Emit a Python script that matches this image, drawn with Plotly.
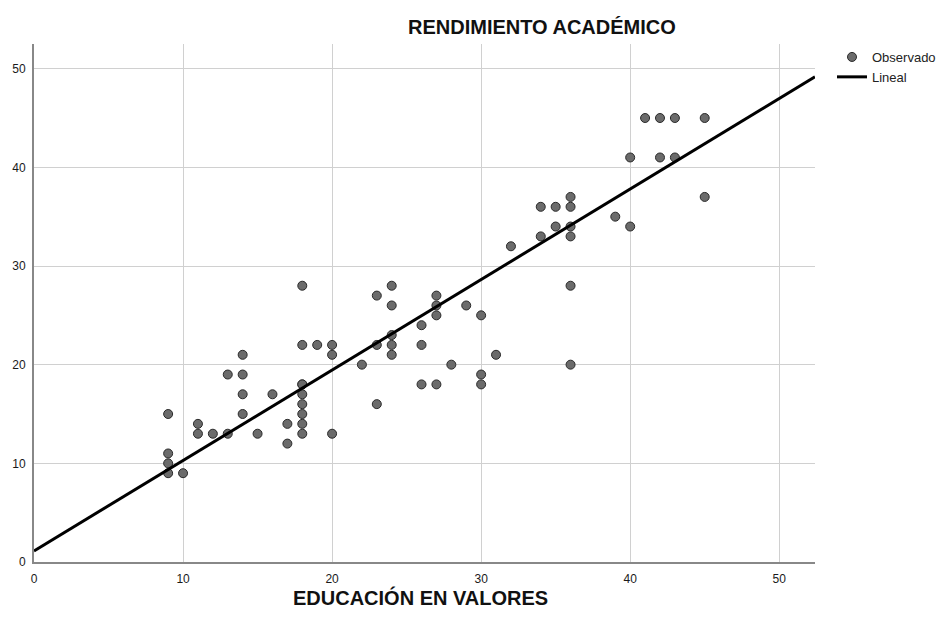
import plotly.graph_objects as go

# Observed points: EDUCACIÓN EN VALORES (x) vs RENDIMIENTO ACADÉMICO (y)
educacion = [9, 9, 9, 9, 10, 11, 11, 12, 13, 13, 14, 14, 14, 14, 15, 16, 17, 17,
             18, 18, 18, 18, 18, 18, 18, 18, 18, 19, 20, 20, 20, 22, 23, 23, 23,
             24, 24, 24, 24, 24, 26, 26, 26, 27, 27, 27, 27, 28, 29, 30, 30, 30,
             31, 32, 34, 34, 35, 35, 36, 36, 36, 36, 36, 36, 39, 40, 40, 41, 42,
             42, 43, 43, 45, 45]
rendimiento = [15, 11, 10, 9, 9, 14, 13, 13, 19, 13, 21, 19, 17, 15, 13, 17, 14, 12,
               28, 22, 18, 17, 16, 15, 14, 13, 18, 22, 22, 21, 13, 20, 27, 22, 16,
               28, 26, 23, 22, 21, 24, 22, 18, 27, 26, 25, 18, 20, 26, 25, 19, 18,
               21, 32, 36, 33, 36, 34, 37, 36, 34, 33, 28, 20, 35, 41, 34, 45, 45,
               41, 45, 41, 45, 37]

# Linear fit as shown in the chart
fit_intercept = 1.12
fit_slope = 0.917

x_ticks = [0, 10, 20, 30, 40, 50]
y_ticks = [0, 10, 20, 30, 40, 50]
x_max = 52.4
y_max = 52.5

line_x = [0, x_max]
line_y = [fit_intercept + fit_slope * v for v in line_x]

W, H = 949, 623
OFF = 8  # page body margin
l, t = 34 - OFF, 44 - OFF
r = W - (815 - OFF)
b = H - (562 - OFF)
pw, ph = W - l - r, H - t - b


def px_x(p):
    return (p - OFF - l) / pw


def px_y(p):
    return (H - b - (p - OFF)) / ph


fig = go.Figure()
fig.add_trace(go.Scatter(
    x=educacion, y=rendimiento, mode="markers", name="Observado",
    marker=dict(size=9, color="#6b6b6b", line=dict(color="#2a2a2a", width=1)),
))
fig.add_trace(go.Scatter(
    x=line_x, y=line_y, mode="lines", name="Lineal",
    line=dict(color="#000000", width=3),
))

fig.update_layout(
    width=W, height=H,
    margin=dict(l=l, r=r, t=t, b=b, autoexpand=False),
    paper_bgcolor="white", plot_bgcolor="white",
    font=dict(family="Liberation Sans, Arial, sans-serif", size=12, color="#222222"),
    showlegend=True,
    legend=dict(x=px_x(832), y=px_y(42), xanchor="left", yanchor="top",
                font=dict(size=13, color="#222222"), bgcolor="rgba(0,0,0,0)",
                tracegroupgap=0, itemwidth=30),
    annotations=[
        dict(text="<b>RENDIMIENTO ACADÉMICO</b>", x=px_x(542), y=px_y(26.5),
             xref="paper", yref="paper", xanchor="center", yanchor="middle",
             showarrow=False, font=dict(size=20, color="#111111")),
        dict(text="<b>EDUCACIÓN EN VALORES</b>", x=px_x(420), y=px_y(597),
             xref="paper", yref="paper", xanchor="center", yanchor="middle",
             showarrow=False, font=dict(size=20, color="#111111")),
    ],
)

fig.update_xaxes(range=[0, x_max], tickvals=x_ticks, showgrid=True, gridcolor="#d0d0d0",
                 gridwidth=1, zeroline=False, showline=True, linecolor="#888888",
                 linewidth=2, ticks="", ticklabelstandoff=5,
                 tickfont=dict(size=12, color="#1a1a1a"))
fig.update_yaxes(range=[0, y_max], tickvals=y_ticks, showgrid=True, gridcolor="#d0d0d0",
                 gridwidth=1, zeroline=False, showline=True, linecolor="#888888",
                 linewidth=2, ticks="", ticklabelstandoff=4,
                 tickfont=dict(size=12, color="#1a1a1a"))

fig.write_html("out.html")
